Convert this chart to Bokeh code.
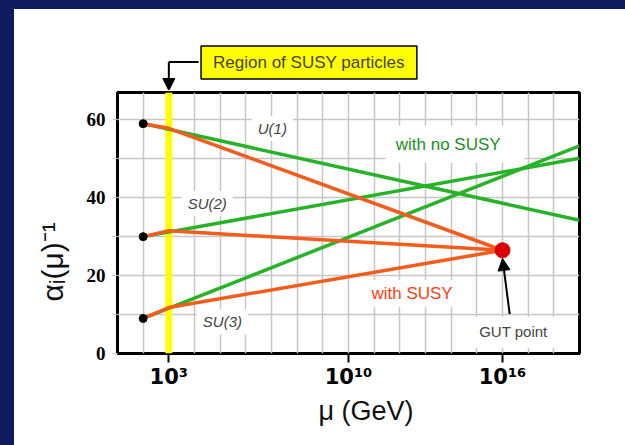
from bokeh.embed import file_html
from bokeh.layouts import column
from bokeh.models import (Arrow, FixedTicker, Label, NormalHead, Range1d, Span,
                          Title)
from bokeh.plotting import figure
from bokeh.resources import INLINE

# ---- data -------------------------------------------------------------
# energy scales (GeV)
mu_start = 1e2      # where the running couplings start
mu_susy = 1e3       # SUSY threshold
mu_gut = 1e16       # unification point
mu_end = 1e19       # right edge of the scale

groups = ["U(1)", "SU(2)", "SU(3)"]
alpha_inv_start = [59.0, 30.0, 9.0]            # at mu_start
alpha_inv_sm_end = [34.2, 50.1, 53.3]          # Standard Model running, at mu_end
alpha_inv_at_susy = [57.8, 31.5, 11.8]         # at the SUSY threshold
alpha_inv_gut = 26.5                           # common value at mu_gut

x_ticks = [1e3, 1e10, 1e16]
x_tick_labels = ["10\u00b3", "10\u00b9\u2070", "10\u00b9\u2076"]
x_grid_decades = list(range(2, 19))
y_ticks = [0, 20, 40, 60]
y_minor_ticks = [10, 30, 50]
y_grid_values = [0, 10, 20, 30, 40, 50, 60]

# ---- style ------------------------------------------------------------
NAVY = "#0e1b5e"
GREEN = "#27b327"
ORANGE = "#f25c1c"
GRID = "#c6c6c6"
SANS = "Liberation Sans"
SERIF = "Liberation Serif"
X_RANGE = Range1d(1e1, 1e19)

# ---- main chart -------------------------------------------------------
p = figure(width=611, height=355, x_axis_type="log",
           x_range=X_RANGE, y_range=Range1d(0, 67),
           output_backend="svg", toolbar_location=None,
           min_border_left=103, min_border_right=46,
           min_border_top=2, min_border_bottom=92,
           background_fill_color="white", border_fill_color="white")

p.outline_line_color = "black"
p.outline_line_width = 3

# grid: every decade / every 10 units
p.xgrid.ticker = FixedTicker(ticks=[10.0 ** k for k in x_grid_decades])
p.ygrid.ticker = FixedTicker(ticks=y_grid_values)
for g in (p.xgrid, p.ygrid):
    g.grid_line_color = GRID
    g.grid_line_width = 1.5

# x axis
xa = p.xaxis[0]
xa.ticker = FixedTicker(ticks=x_ticks)
xa.major_label_overrides = dict(zip(x_ticks, x_tick_labels))
xa.major_label_text_font = "DejaVu Sans"
xa.major_label_text_font_style = "bold"
xa.major_label_text_font_size = "21px"
xa.major_label_text_color = "black"
xa.major_label_standoff = 2
xa.axis_line_color = None
xa.major_tick_line_color = "black"
xa.major_tick_line_width = 2
xa.major_tick_out = 9
xa.major_tick_in = 0
xa.minor_tick_line_color = None

# y axis
ya = p.yaxis[0]
ya.ticker = FixedTicker(ticks=y_ticks, minor_ticks=y_minor_ticks)
ya.axis_line_color = None
ya.major_tick_line_color = GRID
ya.minor_tick_line_color = GRID
ya.major_tick_out = 5
ya.minor_tick_out = 5
ya.major_tick_in = 0
ya.minor_tick_in = 0
ya.major_label_standoff = 7
ya.major_label_text_font = SERIF
ya.major_label_text_font_style = "bold"
ya.major_label_text_font_size = "19px"
ya.major_label_text_color = "black"

# axis titles
p.add_layout(Title(text="\u03bc (GeV)", align="left", offset=201,
                   text_font=SANS, text_font_style="normal",
                   text_font_size="27px", text_color="#111111",
                   standoff=4), "below")
p.add_layout(Title(text="\u03b1\u1d62(\u03bc)\u207b\u00b9", align="left",
                   vertical_align="top", offset=52, text_font=SANS,
                   text_font_style="normal", text_font_size="30px",
                   text_color="#111111", standoff=26), "left")

# SUSY threshold band
p.add_layout(Span(location=mu_susy, dimension="height", line_color="#ffff00",
                  line_width=7, level="underlay"))


def note(fig, x, y, text, **kw):
    kw.setdefault("text_font", SANS)
    fig.add_layout(Label(x=x, y=y, text=text, **kw))


# white boxes behind the in-plot captions hide the grid
box = dict(background_fill_color="white", level="underlay",
           padding=dict(left=6, right=6, top=4, bottom=4))
note(p, 10 ** 6.23, 57.7, "U(1)", text_font_size="15px",
     text_font_style="italic", text_baseline="middle", **box)
note(p, 10 ** 3.5, 38.5, "SU(2)", text_font_size="15px",
     text_font_style="italic", text_baseline="middle", **box)
note(p, 10 ** 4.09, 8.1, "SU(3)", text_font_size="15px",
     text_font_style="italic", text_baseline="middle", **box)
note(p, 10 ** 11.45, 53.7, "with no SUSY", text_font_size="17px",
     text_color="#1b8f22", text_baseline="middle",
     background_fill_color="white", level="underlay",
     padding=dict(left=10, right=24, top=9, bottom=9))
note(p, 10 ** 10.66, 15.4, "with SUSY", text_font_size="17px",
     text_color="#ff3d12", text_baseline="middle", **box)
note(p, 10 ** 14.7, 5.4, "GUT point", text_font_size="15px",
     text_baseline="middle", background_fill_color="white", level="underlay",
     padding=dict(left=10, right=10, top=6, bottom=8))

# running couplings without SUSY
for a0, a1 in zip(alpha_inv_start, alpha_inv_sm_end):
    p.line([mu_start, mu_end], [a0, a1], line_color=GREEN, line_width=3.5)

# running couplings with SUSY: kink at the threshold, meet at the GUT point
for a0, a1 in zip(alpha_inv_start, alpha_inv_at_susy):
    p.line([mu_start, mu_susy, mu_gut], [a0, a1, alpha_inv_gut],
           line_color=ORANGE, line_width=3.5)

p.scatter([mu_start] * len(alpha_inv_start), alpha_inv_start, size=8,
          color="black")
p.scatter([mu_gut], [alpha_inv_gut], size=15, color="#d80000")

# arrow to the GUT point
p.add_layout(Arrow(x_start=10 ** 16.28, y_start=10.1, x_end=mu_gut, y_end=24.4,
                   line_width=2, line_color="black",
                   end=NormalHead(size=12, fill_color="black",
                                  line_color="black")))

# ---- callout strip above the chart ------------------------------------
top = figure(width=611, height=81, x_axis_type="log", x_range=X_RANGE,
             y_range=Range1d(67.5, 88.3), output_backend="svg",
             toolbar_location=None, x_axis_location=None,
             y_axis_location=None, min_border_left=103, min_border_right=46,
             min_border_top=0, min_border_bottom=0,
             background_fill_color=None, border_fill_color="white")
top.outline_line_color = None
top.grid.visible = False

note(top, 10 ** 8.46, 74.7, "Region of SUSY particles", text_font_size="17px",
     text_align="center", text_baseline="middle",
     background_fill_color="#ffff00", border_line_color="black",
     border_line_width=1.5, padding=dict(left=12, right=12, top=7, bottom=7))
top.add_layout(Arrow(x_start=10 ** 4.16, y_start=74.8, x_end=mu_susy,
                     y_end=74.8, line_width=2, line_color="black", end=None))
top.add_layout(Arrow(x_start=mu_susy, y_start=74.8, x_end=mu_susy,
                     y_end=67.5, line_width=2, line_color="black",
                     end=NormalHead(size=12, fill_color="black",
                                    line_color="black")))

# white slide panel on a navy page
panel = column(top, p, spacing=0, styles={"background-color": "white"})
page = column(panel, styles={"background-color": NAVY,
                             "padding": "9px 0px 0px 14px"})

open("out.html", "w").write(file_html(page, INLINE))
